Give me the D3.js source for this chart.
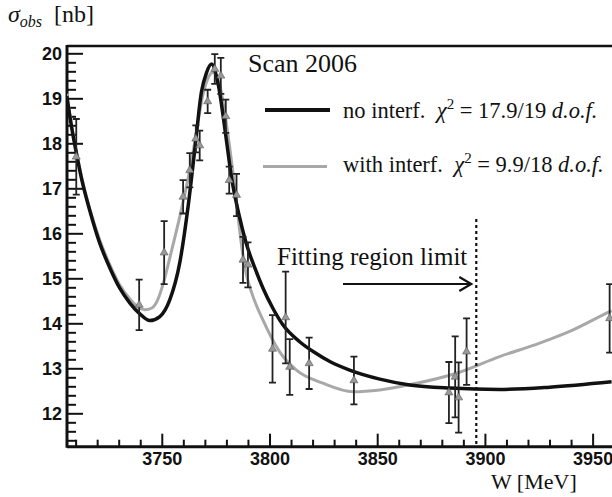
<!DOCTYPE html>
<html>
<head>
<meta charset="utf-8">
<script src="https://d3js.org/d3.v7.min.js"></script>
<style>
  body { margin: 0; background: #fff; }
  svg { display: block; }
  .serif { font-family: "Liberation Serif", "Times New Roman", serif; }
  .tick text { font-family: "Liberation Sans", Arial, sans-serif; font-weight: bold; font-size: 18px; fill: #111; }
</style>
</head>
<body>
<svg id="chart" width="612" height="497"></svg>
<script>
// data points
var pointW   = [3710.3, 3739.5, 3751.1, 3759.9, 3763.0, 3765.8, 3767.6, 3771.3, 3774.6, 3777.4,
                3779.7, 3781.3, 3784.7, 3787.7, 3790.0, 3801.4, 3807.5, 3809.4, 3818.4, 3839.2,
                3883.3, 3886.2, 3887.8, 3891.5, 3957.9];
var pointVal = [17.70, 14.41, 15.57, 16.81, 17.40, 18.10, 17.95, 18.93, 19.65, 19.50,
                18.60, 17.18, 16.85, 15.41, 15.30, 13.43, 14.13, 13.03, 13.11, 12.73,
                12.46, 12.81, 12.35, 13.37, 14.11];
var pointErr = [0.84, 0.56, 0.70, 0.37, 0.38, 0.30, 0.33, 0.26, 0.33, 0.40,
                0.37, 0.30, 0.47, 0.51, 0.50, 0.75, 1.02, 0.62, 0.57, 0.53,
                0.68, 0.90, 0.78, 0.74, 0.76];

// fit without interference (black)
var noIntW = [3705.9, 3708.2, 3710.6, 3712.9, 3716.6, 3721.2, 3725.9, 3730.5, 3735.2, 3739.8,
              3744.4, 3749.1, 3753.7, 3758.4, 3762.2, 3765.3, 3768.4, 3770.7, 3773.1, 3776.1,
              3780.0, 3782.3, 3786.2, 3789.3, 3793.2, 3797.0, 3801.5, 3806.3, 3814.0, 3821.0,
              3828.0, 3837.2, 3851.2, 3865.1, 3883.6, 3906.8, 3930.0, 3958.8];
var noIntV = [19.05, 18.34, 17.72, 17.18, 16.50, 15.78, 15.23, 14.78, 14.45, 14.21,
              14.06, 14.15, 14.52, 15.36, 16.59, 17.85, 19.14, 19.56, 19.76, 19.33,
              18.07, 17.26, 16.34, 15.76, 15.23, 14.78, 14.34, 13.96, 13.59, 13.35,
              13.15, 12.96, 12.76, 12.63, 12.56, 12.53, 12.58, 12.70];

// fit with interference (grey)
var withIntW = [3705.9, 3708.2, 3710.6, 3712.9, 3716.6, 3721.2, 3725.9, 3730.5, 3735.2, 3738.9,
                3742.1, 3745.4, 3748.1, 3750.9, 3753.7, 3758.4, 3763.0, 3765.8, 3768.4, 3770.9,
                3773.8, 3776.9, 3780.6, 3784.3, 3786.7, 3789.0, 3791.8, 3797.0, 3804.8, 3812.5,
                3824.8, 3838.8, 3851.2, 3866.6, 3886.8, 3906.8, 3925.4, 3940.7, 3957.9, 3958.8];
var withIntV = [19.10, 18.38, 17.76, 17.23, 16.54, 15.85, 15.30, 14.85, 14.54, 14.36,
                14.30, 14.34, 14.52, 14.92, 15.45, 16.38, 17.41, 18.16, 18.92, 19.38,
                19.58, 19.30, 18.23, 16.85, 15.85, 15.14, 14.67, 14.07, 13.36, 12.96,
                12.67, 12.48, 12.52, 12.65, 12.89, 13.26, 13.56, 13.85, 14.26, 14.28];

var yMajor = [12, 13, 14, 15, 16, 17, 18, 19, 20];
var xMajor = [3750, 3800, 3850, 3900, 3950];
var fitLimit = 3896;

var svg = d3.select('#chart');

var mLeft = 67, mTop = 46, mBottom = 446.7, mRight = 612;

var x = d3.scaleLinear().domain([3706, 3959]).range([67, 612]);
var y = d3.scaleLinear().domain([12, 20]).range([413.3, 53.3]);

svg.append('clipPath').attr('id', 'plotclip')
  .append('rect').attr('x', mLeft).attr('y', mTop).attr('width', mRight - mLeft).attr('height', mBottom - mTop);

var yMinor = d3.range(11.4, 20.01, 0.2).map(function(d) { return +d.toFixed(1); })
  .filter(function(d) { return yMajor.indexOf(d) < 0; });
var xMinor = d3.range(3710, 3960, 10).filter(function(d) { return xMajor.indexOf(d) < 0; });

function tickStyle(g) {
  g.select('.domain').remove();
  g.selectAll('line').attr('stroke', '#111').attr('stroke-width', 2);
}

// y ticks (pointing into the plot)
svg.append('g').attr('transform', 'translate(' + mLeft + ',0)')
  .call(d3.axisRight(y).tickValues(yMajor).tickSize(16).tickFormat(''))
  .call(tickStyle);
svg.append('g').attr('transform', 'translate(' + mLeft + ',0)')
  .call(d3.axisRight(y).tickValues(yMinor).tickSize(9).tickFormat(''))
  .call(tickStyle);
svg.append('g').attr('transform', 'translate(' + mLeft + ',0)')
  .call(d3.axisLeft(y).tickValues(yMajor).tickSize(0).tickPadding(5).tickFormat(d3.format('d')))
  .call(function(g) { g.select('.domain').remove(); });

// x ticks
svg.append('g').attr('transform', 'translate(0,' + mBottom + ')')
  .call(d3.axisTop(x).tickValues(xMajor).tickSize(13).tickFormat(''))
  .call(tickStyle);
svg.append('g').attr('transform', 'translate(0,' + mBottom + ')')
  .call(d3.axisTop(x).tickValues(xMinor).tickSize(7).tickFormat(''))
  .call(tickStyle);
svg.append('g').attr('transform', 'translate(0,' + mBottom + ')')
  .call(d3.axisBottom(x).tickValues(xMajor).tickSize(0).tickPadding(6).tickFormat(d3.format('d')))
  .call(function(g) { g.select('.domain').remove(); });

// frame
svg.append('line').attr('x1', mLeft).attr('x2', mRight).attr('y1', mTop).attr('y2', mTop)
  .attr('stroke', '#111').attr('stroke-width', 2.5);
svg.append('line').attr('x1', mLeft).attr('x2', mLeft).attr('y1', mTop - 1).attr('y2', mBottom + 1)
  .attr('stroke', '#111').attr('stroke-width', 3);
svg.append('line').attr('x1', mLeft).attr('x2', mRight).attr('y1', mBottom).attr('y2', mBottom)
  .attr('stroke', '#111').attr('stroke-width', 3);

var plot = svg.append('g').attr('clip-path', 'url(#plotclip)');

var line = d3.line().curve(d3.curveMonotoneX)
  .x(function(d) { return x(d[0]); })
  .y(function(d) { return y(d[1]); });

// grey fit
plot.append('path')
  .datum(d3.zip(withIntW, withIntV))
  .attr('d', line)
  .attr('fill', 'none')
  .attr('stroke', '#a8a8a8')
  .attr('stroke-width', 3);

// black fit
plot.append('path')
  .datum(d3.zip(noIntW, noIntV))
  .attr('d', line)
  .attr('fill', 'none')
  .attr('stroke', '#111')
  .attr('stroke-width', 3.5);

// data points with error bars
var pts = d3.range(pointW.length).map(function(i) {
  return { w: pointW[i], v: pointVal[i], e: pointErr[i] };
});

var pg = plot.selectAll('.pt').data(pts).enter().append('g').attr('class', 'pt')
  .attr('transform', function(d) { return 'translate(' + x(d.w) + ',0)'; });
pg.append('line')
  .attr('y1', function(d) { return y(d.v - d.e); })
  .attr('y2', function(d) { return y(d.v + d.e); })
  .attr('stroke', '#222').attr('stroke-width', 1.8);
pg.append('line').attr('x1', -3.5).attr('x2', 3.5)
  .attr('y1', function(d) { return y(d.v + d.e); })
  .attr('y2', function(d) { return y(d.v + d.e); })
  .attr('stroke', '#222').attr('stroke-width', 1.8);
pg.append('line').attr('x1', -3.5).attr('x2', 3.5)
  .attr('y1', function(d) { return y(d.v - d.e); })
  .attr('y2', function(d) { return y(d.v - d.e); })
  .attr('stroke', '#222').attr('stroke-width', 1.8);
pg.append('path')
  .attr('transform', function(d) { return 'translate(0,' + y(d.v) + ')'; })
  .attr('d', d3.symbol().type(d3.symbolTriangle).size(28))
  .attr('fill', '#999').attr('stroke', '#555').attr('stroke-width', 0.6);

// fitting region limit
svg.append('line')
  .attr('x1', x(fitLimit)).attr('x2', x(fitLimit))
  .attr('y1', 219).attr('y2', mBottom)
  .attr('stroke', '#111').attr('stroke-width', 2.2)
  .attr('stroke-dasharray', '3,3');
svg.append('line')
  .attr('x1', 343).attr('x2', x(fitLimit) - 5)
  .attr('y1', 284).attr('y2', 284)
  .attr('stroke', '#111').attr('stroke-width', 2);
svg.append('path')
  .attr('d', 'M' + (x(fitLimit) - 17) + ',277 L' + (x(fitLimit) - 5) + ',284 L' + (x(fitLimit) - 17) + ',291')
  .attr('fill', 'none').attr('stroke', '#111').attr('stroke-width', 2.2);
svg.append('text').attr('class', 'serif')
  .attr('x', 277).attr('y', 265).attr('font-size', 25).attr('fill', '#111')
  .text('Fitting region limit');

// legend
svg.append('text').attr('class', 'serif')
  .attr('x', 248).attr('y', 72).attr('font-size', 26).attr('fill', '#111')
  .text('Scan 2006');

svg.append('line').attr('x1', 265).attr('x2', 330).attr('y1', 110).attr('y2', 110)
  .attr('stroke', '#111').attr('stroke-width', 4);
svg.append('line').attr('x1', 263).attr('x2', 327).attr('y1', 166.5).attr('y2', 166.5)
  .attr('stroke', '#a8a8a8').attr('stroke-width', 3);

function legendText(yPos, label, chi) {
  var t = svg.append('text').attr('class', 'serif')
    .attr('x', 343).attr('y', yPos).attr('font-size', 22.5).attr('fill', '#111');
  t.append('tspan').text(label + '\u00a0\u00a0');
  t.append('tspan').attr('font-style', 'italic').text('\u03c7');
  t.append('tspan').attr('font-size', 15).attr('dy', -9).text('2');
  t.append('tspan').attr('dy', 9).text(' = ' + chi + ' ');
  t.append('tspan').attr('font-style', 'italic').text('d.o.f.');
}
legendText(118, 'no interf.', '17.9/19');
legendText(171.5, 'with interf.', '9.9/18');

// axis titles
var yt = svg.append('text').attr('class', 'serif')
  .attr('x', 8).attr('y', 22).attr('font-size', 24).attr('fill', '#111');
yt.append('tspan').attr('font-style', 'italic').text('\u03c3');
yt.append('tspan').attr('font-style', 'italic').attr('font-size', 16).attr('dy', 5).text('obs');
yt.append('tspan').attr('dy', -5).text('\u00a0\u00a0[nb]');

svg.append('text').attr('class', 'serif')
  .attr('x', 491).attr('y', 489).attr('font-size', 22).attr('fill', '#111')
  .text('W [MeV]');
</script>
</body>
</html>
